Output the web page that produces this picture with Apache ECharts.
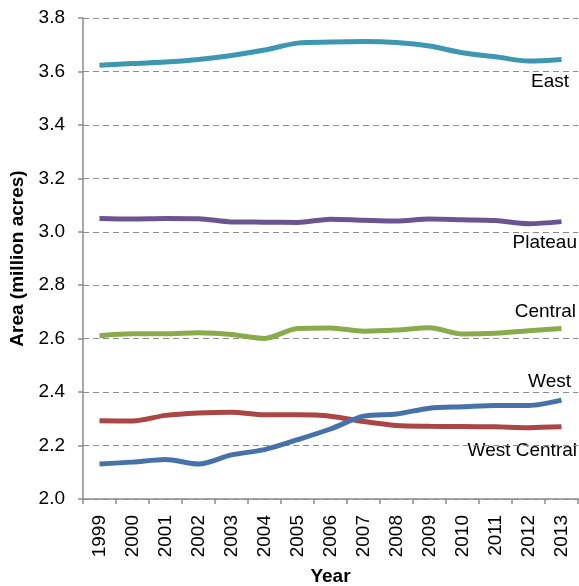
<!DOCTYPE html>
<html>
<head>
<meta charset="utf-8">
<script src="https://cdn.jsdelivr.net/npm/echarts@6/dist/echarts.min.js"></script>
<style>
  html, body { margin: 0; padding: 0; background: #fff; }
  #chart { width: 579px; height: 586px; }
</style>
</head>
<body>
<div id="chart"></div>
<script>
// 年份
const years = ['1999', '2000', '2001', '2002', '2003', '2004', '2005', '2006', '2007', '2008', '2009', '2010', '2011', '2012', '2013']
// 各区域面积 (million acres)
const east = [3.623, 3.630, 3.635, 3.645, 3.660, 3.680, 3.706, 3.710, 3.712, 3.708, 3.695, 3.670, 3.655, 3.639, 3.645]
const plateau = [3.050, 3.048, 3.050, 3.049, 3.037, 3.036, 3.035, 3.047, 3.043, 3.040, 3.048, 3.045, 3.042, 3.030, 3.038]
const central = [2.611, 2.618, 2.618, 2.622, 2.616, 2.601, 2.638, 2.640, 2.628, 2.632, 2.641, 2.617, 2.620, 2.630, 2.638]
const westCentral = [2.293, 2.292, 2.313, 2.322, 2.325, 2.315, 2.315, 2.310, 2.290, 2.275, 2.272, 2.271, 2.270, 2.267, 2.270]
const west = [2.131, 2.138, 2.148, 2.131, 2.165, 2.185, 2.222, 2.262, 2.310, 2.318, 2.340, 2.345, 2.350, 2.350, 2.370]

const font = 'Liberation Sans, Arial, sans-serif'
const fs = 19

function line (name, data, color) {
    return {
        name: name,
        type: 'line',
        data: data,
        smooth: 0.3,
        symbol: 'none',
        lineStyle: { color: color, width: 5 },
        itemStyle: { color: color }
    }
}

let myChart = echarts.init(document.getElementById('chart'))
myChart.setOption({
    animation: false,
    grid: { left: 83, right: 1, top: 18, bottom: 87, outerBoundsMode: 'none', containLabel: false },
    xAxis: {
        type: 'category',
        data: years,
        boundaryGap: true,
        name: 'Year',
        nameLocation: 'middle',
        nameGap: 68,
        nameTextStyle: { fontFamily: font, fontSize: fs, fontWeight: 'bold', color: '#000' },
        axisLine: { lineStyle: { color: '#8c8c8c', width: 1.5 } },
        axisTick: { show: true, length: 5, lineStyle: { color: '#8c8c8c', width: 1.5 } },
        axisLabel: { rotate: 90, fontFamily: font, fontSize: fs, color: '#000', margin: 16 }
    },
    yAxis: {
        type: 'value',
        min: 2.0,
        max: 3.8,
        interval: 0.2,
        name: 'Area (million acres)',
        nameLocation: 'middle',
        nameGap: 55,
        nameTextStyle: { fontFamily: font, fontSize: fs, fontWeight: 'bold', color: '#000' },
        axisLine: { show: true, lineStyle: { color: '#8c8c8c', width: 1.5 } },
        axisTick: { show: true, length: 5, lineStyle: { color: '#8c8c8c', width: 1.5 } },
        axisLabel: {
            fontFamily: font, fontSize: fs, color: '#000', margin: 18,
            formatter: v => v.toFixed(1)
        },
        splitLine: { show: true, lineStyle: { color: '#8c8c8c', type: [6, 4], width: 1.2 } }
    },
    // 曲线标注
    graphic: [
        { type: 'text', right: 10, top: 72, style: { text: 'East', font: fs + 'px ' + font, fill: '#000' } },
        { type: 'text', right: 2, top: 233, style: { text: 'Plateau', font: fs + 'px ' + font, fill: '#000' } },
        { type: 'text', right: 3, top: 302, style: { text: 'Central', font: fs + 'px ' + font, fill: '#000' } },
        { type: 'text', right: 8, top: 372, style: { text: 'West', font: fs + 'px ' + font, fill: '#000' } },
        { type: 'text', right: 2, top: 441, style: { text: 'West Central', font: fs + 'px ' + font, fill: '#000' } }
    ],
    series: [
        line('East', east, '#3d97b1'),
        line('Plateau', plateau, '#6b5591'),
        line('Central', central, '#8aab4b'),
        line('West Central', westCentral, '#aa4644'),
        line('West', west, '#4672a9')
    ]
})
</script>
</body>
</html>
